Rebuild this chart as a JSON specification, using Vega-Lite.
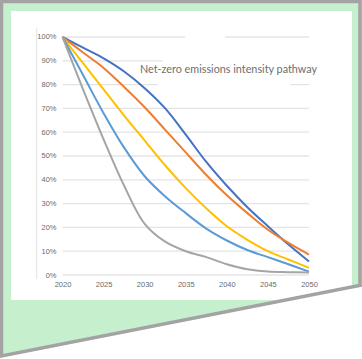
{
  "$schema": "https://vega.github.io/schema/vega-lite/v6.json",
  "width": 341,
  "height": 289,
  "autosize": {"type": "none"},
  "padding": {"left": 11, "top": 11, "right": 10, "bottom": 59},
  "background": "#C6EFCE",
  "config": {"view": {"fill": "white", "stroke": null}, "axis": {"labelOverlap": false}},
  "datasets": {
    "series": [
      {"series": "Pathway 1", "year": 2020, "value": 1.0},
      {"series": "Pathway 1", "year": 2022.5, "value": 0.955},
      {"series": "Pathway 1", "year": 2025, "value": 0.91},
      {"series": "Pathway 1", "year": 2027.5, "value": 0.855},
      {"series": "Pathway 1", "year": 2030, "value": 0.785},
      {"series": "Pathway 1", "year": 2032.5, "value": 0.7},
      {"series": "Pathway 1", "year": 2035, "value": 0.59},
      {"series": "Pathway 1", "year": 2037.5, "value": 0.475},
      {"series": "Pathway 1", "year": 2040, "value": 0.375},
      {"series": "Pathway 1", "year": 2042.5, "value": 0.285},
      {"series": "Pathway 1", "year": 2045, "value": 0.205},
      {"series": "Pathway 1", "year": 2047.5, "value": 0.128},
      {"series": "Pathway 1", "year": 2050, "value": 0.057},
      {"series": "Pathway 2", "year": 2020, "value": 1.0},
      {"series": "Pathway 2", "year": 2022.5, "value": 0.935},
      {"series": "Pathway 2", "year": 2025, "value": 0.87},
      {"series": "Pathway 2", "year": 2027.5, "value": 0.79},
      {"series": "Pathway 2", "year": 2030, "value": 0.705},
      {"series": "Pathway 2", "year": 2032.5, "value": 0.61},
      {"series": "Pathway 2", "year": 2035, "value": 0.515},
      {"series": "Pathway 2", "year": 2037.5, "value": 0.42},
      {"series": "Pathway 2", "year": 2040, "value": 0.335},
      {"series": "Pathway 2", "year": 2042.5, "value": 0.26},
      {"series": "Pathway 2", "year": 2045, "value": 0.19},
      {"series": "Pathway 2", "year": 2047.5, "value": 0.135},
      {"series": "Pathway 2", "year": 2050, "value": 0.086},
      {"series": "Pathway 3", "year": 2020, "value": 1.0},
      {"series": "Pathway 3", "year": 2022.5, "value": 0.89},
      {"series": "Pathway 3", "year": 2025, "value": 0.78},
      {"series": "Pathway 3", "year": 2027.5, "value": 0.67},
      {"series": "Pathway 3", "year": 2030, "value": 0.565},
      {"series": "Pathway 3", "year": 2032.5, "value": 0.46},
      {"series": "Pathway 3", "year": 2035, "value": 0.365},
      {"series": "Pathway 3", "year": 2037.5, "value": 0.28},
      {"series": "Pathway 3", "year": 2040, "value": 0.205},
      {"series": "Pathway 3", "year": 2042.5, "value": 0.148},
      {"series": "Pathway 3", "year": 2045, "value": 0.1},
      {"series": "Pathway 3", "year": 2047.5, "value": 0.065},
      {"series": "Pathway 3", "year": 2050, "value": 0.03},
      {"series": "Pathway 4", "year": 2020, "value": 1.0},
      {"series": "Pathway 4", "year": 2022.5, "value": 0.84},
      {"series": "Pathway 4", "year": 2025, "value": 0.68},
      {"series": "Pathway 4", "year": 2027.5, "value": 0.535},
      {"series": "Pathway 4", "year": 2030, "value": 0.415},
      {"series": "Pathway 4", "year": 2032.5, "value": 0.33},
      {"series": "Pathway 4", "year": 2035, "value": 0.26},
      {"series": "Pathway 4", "year": 2037.5, "value": 0.195},
      {"series": "Pathway 4", "year": 2040, "value": 0.145},
      {"series": "Pathway 4", "year": 2042.5, "value": 0.105},
      {"series": "Pathway 4", "year": 2045, "value": 0.075},
      {"series": "Pathway 4", "year": 2047.5, "value": 0.045},
      {"series": "Pathway 4", "year": 2050, "value": 0.014},
      {"series": "Pathway 5", "year": 2020, "value": 1.0},
      {"series": "Pathway 5", "year": 2022.5, "value": 0.78},
      {"series": "Pathway 5", "year": 2025, "value": 0.57},
      {"series": "Pathway 5", "year": 2027.5, "value": 0.375},
      {"series": "Pathway 5", "year": 2030, "value": 0.215},
      {"series": "Pathway 5", "year": 2032.5, "value": 0.14},
      {"series": "Pathway 5", "year": 2035, "value": 0.1},
      {"series": "Pathway 5", "year": 2037.5, "value": 0.075},
      {"series": "Pathway 5", "year": 2040, "value": 0.045},
      {"series": "Pathway 5", "year": 2042.5, "value": 0.024},
      {"series": "Pathway 5", "year": 2045, "value": 0.015},
      {"series": "Pathway 5", "year": 2047.5, "value": 0.012},
      {"series": "Pathway 5", "year": 2050, "value": 0.01}
    ],
    "grid": [
      {"level": 1.0, "start": 2020, "end": 2034.9},
      {"level": 1.0, "start": 2039.8, "end": 2050},
      {"level": 0.9, "start": 2020, "end": 2032.2},
      {"level": 0.8, "start": 2020, "end": 2031.6},
      {"level": 0.8, "start": 2047.7, "end": 2050},
      {"level": 0.7, "start": 2020, "end": 2050},
      {"level": 0.6, "start": 2020, "end": 2050},
      {"level": 0.5, "start": 2020, "end": 2050},
      {"level": 0.4, "start": 2020, "end": 2050},
      {"level": 0.3, "start": 2020, "end": 2050},
      {"level": 0.2, "start": 2020, "end": 2050},
      {"level": 0.1, "start": 2020, "end": 2050},
      {"level": 0.0, "start": 2020, "end": 2050}
    ],
    "frame": [
      {"step": 1, "fx": 2056.207, "fy": -0.0378},
      {"step": 2, "fx": 2056.207, "fy": 1.1492},
      {"step": 3, "fx": 2012.576, "fy": 1.1492},
      {"step": 4, "fx": 2012.576, "fy": -0.3403},
      {"step": 5, "fx": 2056.45, "fy": -0.042}
    ],
    "corner": [
      {"cx": 2012.394, "top": -0.3403, "bottom": -0.3782},
      {"cx": 2056.45, "top": -0.042, "bottom": -0.3782}
    ]
  },
  "layer": [
    {
      "data": {"values": [{"edge": 2016.86, "lo": -0.0168, "hi": 1.037}]},
      "mark": {"type": "rule", "color": "#e2e2e2", "strokeWidth": 1},
      "encoding": {
        "x": {
          "field": "edge", "type": "quantitative",
          "scale": {"domain": [2013.732, 2055.233], "nice": false, "zero": false},
          "axis": {"title": null, "values": [2020, 2025, 2030, 2035, 2040, 2045, 2050], "format": "d", "domain": false, "ticks": false, "grid": false, "labelFont": "Liberation Sans", "labelFontSize": 7.5, "labelColor": "#6a6a6a", "offset": -20, "labelPadding": 0, "labelFlush": false, "labelOverlap": false}
        },
        "y": {
          "field": "lo", "type": "quantitative",
          "scale": {"domain": [-0.10504, 1.10924], "nice": false, "zero": false},
          "axis": {"title": null, "values": [0, 0.1, 0.2, 0.3, 0.4, 0.5, 0.6, 0.7, 0.8, 0.9, 1.0], "format": ".0%", "domain": false, "ticks": false, "grid": false, "labelFont": "Liberation Sans", "labelFontSize": 7.5, "labelColor": "#6a6a6a", "offset": -45, "labelPadding": 0, "labelFlush": false, "labelOverlap": false}
        },
        "y2": {"field": "hi"}
      }
    },
    {
      "data": {"name": "grid"},
      "mark": {"type": "rule", "color": "#e4e4e4", "strokeWidth": 1.3},
      "encoding": {
        "x": {"field": "start", "type": "quantitative",
          "axis": {"title": null, "values": [2020, 2025, 2030, 2035, 2040, 2045, 2050], "format": "d", "domain": false, "ticks": false, "grid": false, "labelFont": "Liberation Sans", "labelFontSize": 7.5, "labelColor": "#6a6a6a", "offset": -20, "labelPadding": 0, "labelFlush": false, "labelOverlap": false}},
        "x2": {"field": "end"},
        "y": {"field": "level", "type": "quantitative",
          "axis": {"title": null, "values": [0, 0.1, 0.2, 0.3, 0.4, 0.5, 0.6, 0.7, 0.8, 0.9, 1.0], "format": ".0%", "domain": false, "ticks": false, "grid": false, "labelFont": "Liberation Sans", "labelFontSize": 7.5, "labelColor": "#6a6a6a", "offset": -45, "labelPadding": 0, "labelFlush": false, "labelOverlap": false}}
      }
    },
    {
      "data": {"values": [{"label": "Net-zero emissions intensity pathway"}]},
      "mark": {"type": "text", "align": "left", "baseline": "alphabetic", "font": "Lato", "fontSize": 10.8, "color": "#6e6e6e"},
      "encoding": {
        "x": {"datum": 2029.43, "type": "quantitative",
          "axis": {"title": null, "values": [2020, 2025, 2030, 2035, 2040, 2045, 2050], "format": "d", "domain": false, "ticks": false, "grid": false, "labelFont": "Liberation Sans", "labelFontSize": 7.5, "labelColor": "#6a6a6a", "offset": -20, "labelPadding": 0, "labelFlush": false, "labelOverlap": false}},
        "y": {"datum": 0.8487, "type": "quantitative",
          "axis": {"title": null, "values": [0, 0.1, 0.2, 0.3, 0.4, 0.5, 0.6, 0.7, 0.8, 0.9, 1.0], "format": ".0%", "domain": false, "ticks": false, "grid": false, "labelFont": "Liberation Sans", "labelFontSize": 7.5, "labelColor": "#6a6a6a", "offset": -45, "labelPadding": 0, "labelFlush": false, "labelOverlap": false}},
        "text": {"field": "label"}
      }
    },
    {
      "data": {"name": "series"},
      "mark": {"type": "line", "interpolate": "catmull-rom", "strokeWidth": 2},
      "encoding": {
        "x": {"field": "year", "type": "quantitative",
          "axis": {"title": null, "values": [2020, 2025, 2030, 2035, 2040, 2045, 2050], "format": "d", "domain": false, "ticks": false, "grid": false, "labelFont": "Liberation Sans", "labelFontSize": 7.5, "labelColor": "#6a6a6a", "offset": -20, "labelPadding": 0, "labelFlush": false, "labelOverlap": false}},
        "y": {"field": "value", "type": "quantitative",
          "axis": {"title": null, "values": [0, 0.1, 0.2, 0.3, 0.4, 0.5, 0.6, 0.7, 0.8, 0.9, 1.0], "format": ".0%", "domain": false, "ticks": false, "grid": false, "labelFont": "Liberation Sans", "labelFontSize": 7.5, "labelColor": "#6a6a6a", "offset": -45, "labelPadding": 0, "labelFlush": false, "labelOverlap": false}},
        "color": {
          "field": "series", "type": "nominal", "legend": null,
          "scale": {"domain": ["Pathway 1", "Pathway 2", "Pathway 3", "Pathway 4", "Pathway 5"], "range": ["#4472C4", "#ED7D31", "#FFC000", "#5B9BD5", "#A5A5A5"]}
        }
      }
    },
    {
      "data": {"name": "corner"},
      "mark": {"type": "area", "color": "white", "clip": false, "opacity": 1},
      "encoding": {
        "x": {"field": "cx", "type": "quantitative",
          "axis": {"title": null, "values": [2020, 2025, 2030, 2035, 2040, 2045, 2050], "format": "d", "domain": false, "ticks": false, "grid": false, "labelFont": "Liberation Sans", "labelFontSize": 7.5, "labelColor": "#6a6a6a", "offset": -20, "labelPadding": 0, "labelFlush": false, "labelOverlap": false}},
        "y": {"field": "top", "type": "quantitative",
          "axis": {"title": null, "values": [0, 0.1, 0.2, 0.3, 0.4, 0.5, 0.6, 0.7, 0.8, 0.9, 1.0], "format": ".0%", "domain": false, "ticks": false, "grid": false, "labelFont": "Liberation Sans", "labelFontSize": 7.5, "labelColor": "#6a6a6a", "offset": -45, "labelPadding": 0, "labelFlush": false, "labelOverlap": false}},
        "y2": {"field": "bottom"}
      }
    },
    {
      "data": {"name": "frame"},
      "mark": {"type": "line", "color": "#a3a3a3", "strokeWidth": 3.5, "clip": false, "strokeJoin": "miter"},
      "encoding": {
        "x": {"field": "fx", "type": "quantitative",
          "axis": {"title": null, "values": [2020, 2025, 2030, 2035, 2040, 2045, 2050], "format": "d", "domain": false, "ticks": false, "grid": false, "labelFont": "Liberation Sans", "labelFontSize": 7.5, "labelColor": "#6a6a6a", "offset": -20, "labelPadding": 0, "labelFlush": false, "labelOverlap": false}},
        "y": {"field": "fy", "type": "quantitative",
          "axis": {"title": null, "values": [0, 0.1, 0.2, 0.3, 0.4, 0.5, 0.6, 0.7, 0.8, 0.9, 1.0], "format": ".0%", "domain": false, "ticks": false, "grid": false, "labelFont": "Liberation Sans", "labelFontSize": 7.5, "labelColor": "#6a6a6a", "offset": -45, "labelPadding": 0, "labelFlush": false, "labelOverlap": false}},
        "order": {"field": "step", "type": "quantitative"}
      }
    }
  ]
}
